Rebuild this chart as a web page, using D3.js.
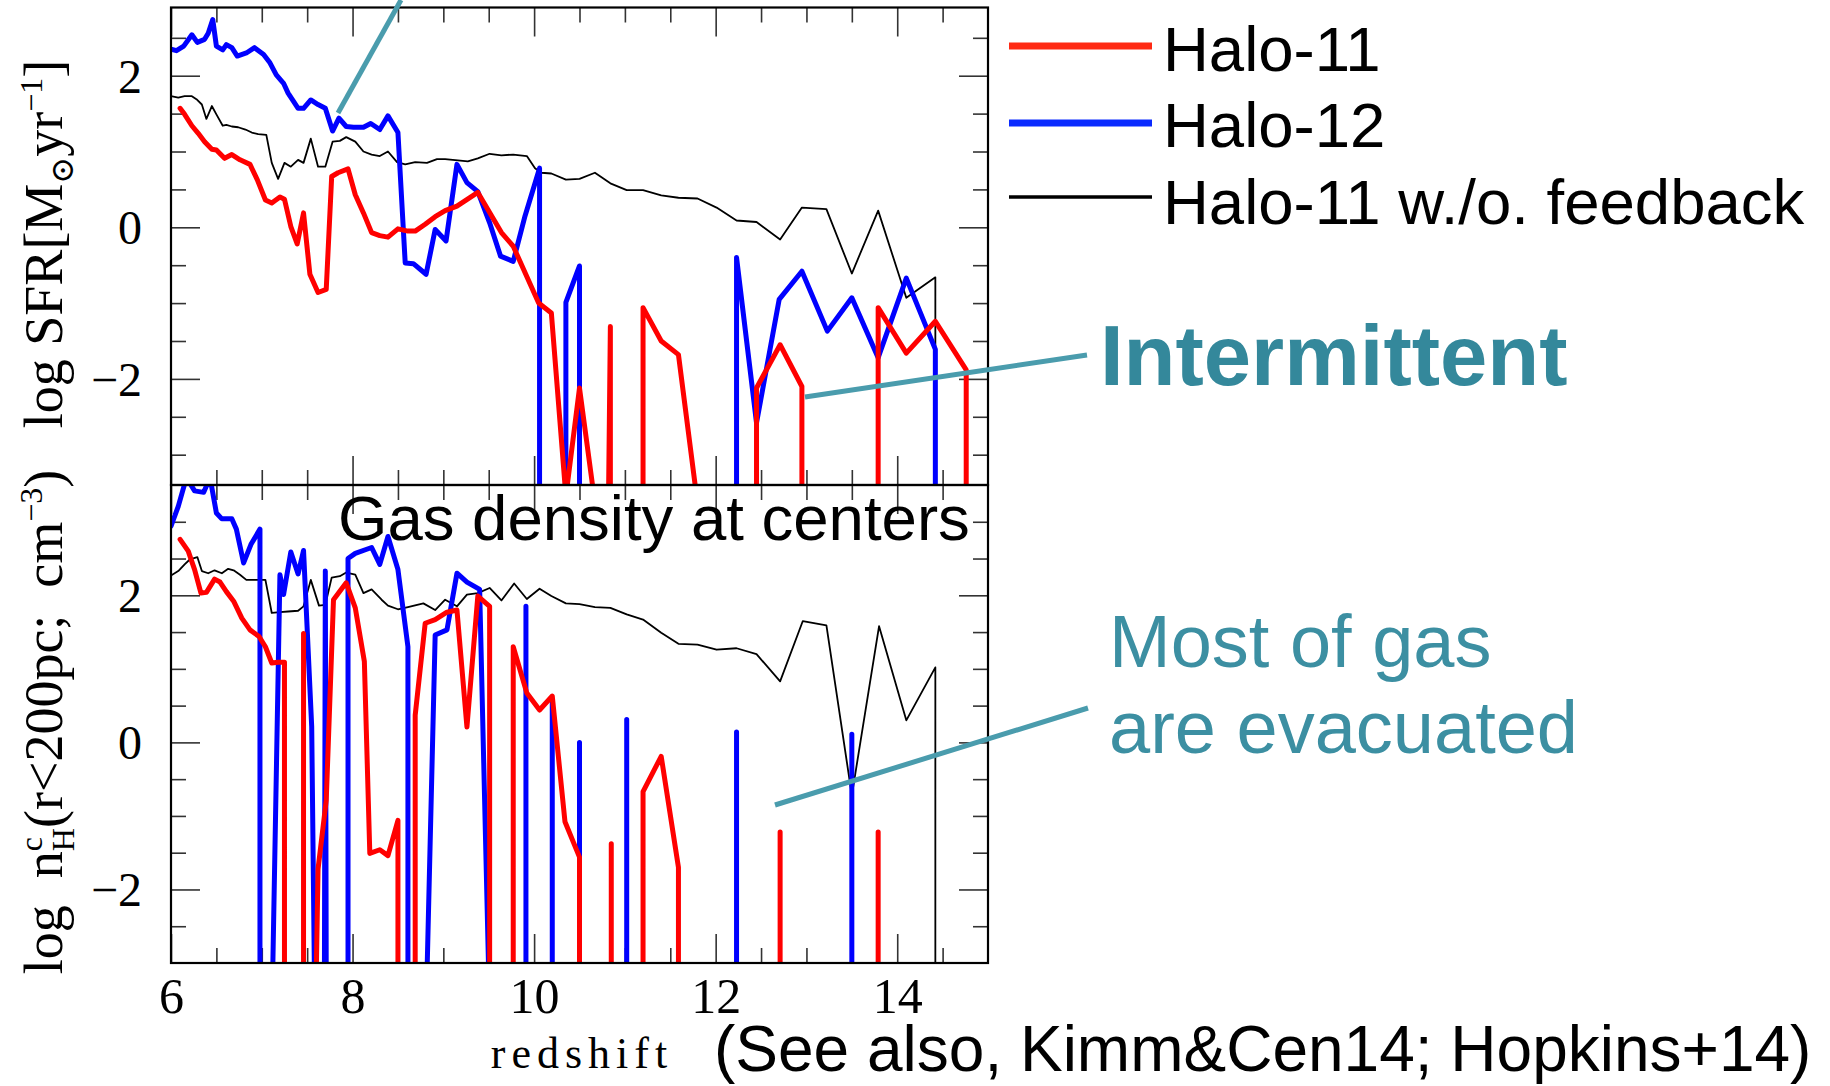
<!DOCTYPE html>
<html>
<head>
<meta charset="utf-8">
<script src="https://cdn.jsdelivr.net/npm/d3@7"></script>
<style>
  html, body { margin: 0; padding: 0; background: #fff; }
  svg { display: block; }
</style>
</head>
<body>
<svg id="chart" width="1830" height="1086"></svg>
<script>
// ---------------------------------------------------------------------------
// Data: redshift z, log value.  null = nothing there (log -> -infinity),
// drawn as a drop below the panel floor.
// ---------------------------------------------------------------------------
const redshiftLabels = [6, 8, 10, 12, 14];
const valueLabels = [-2, 0, 2];
const seriesNames = ["Halo-11", "Halo-12", "Halo-11 w./o. feedback"];

// log SFR [Msun/yr]
const sfrHalo11 = [
  [6.10, 1.57], [6.15, 1.49], [6.23, 1.34], [6.30, 1.24], [6.37, 1.13], [6.45, 1.03],
  [6.50, 1.02], [6.59, 0.91], [6.67, 0.96], [6.76, 0.89], [6.87, 0.83], [6.95, 0.63],
  [7.04, 0.36], [7.11, 0.32], [7.20, 0.40], [7.25, 0.37], [7.32, 0.01], [7.39, -0.22],
  [7.46, 0.19], [7.53, -0.62], [7.62, -0.86], [7.71, -0.82], [7.77, 0.67], [7.84, 0.72],
  [7.95, 0.77], [8.03, 0.43], [8.12, 0.19], [8.21, -0.07], [8.30, -0.11], [8.39, -0.13],
  [8.50, -0.02], [8.61, -0.05], [8.69, -0.05], [8.80, 0.04], [8.91, 0.14], [9.02, 0.22],
  [9.15, 0.28], [9.38, 0.46], [9.64, -0.07], [9.77, -0.25], [10.05, -1.00], [10.19, -1.13],
  [10.35, null], [10.50, -2.12], [10.66, null], [10.82, null], [10.84, -1.31], [10.84, null],
  [11.20, null], [11.20, -1.06], [11.40, -1.50], [11.59, -1.68], [11.79, null],
  [12.45, null], [12.45, -2.12], [12.71, -1.55], [12.95, -2.10], [12.95, null],
  [13.79, null], [13.79, -1.06], [14.10, -1.66], [14.42, -1.24], [14.76, -1.88], [14.76, null]
];
const sfrHalo12 = [
  [6.00, 2.35], [6.06, 2.33], [6.14, 2.39], [6.23, 2.54], [6.29, 2.44], [6.37, 2.48],
  [6.41, 2.56], [6.46, 2.74], [6.50, 2.39], [6.57, 2.34], [6.61, 2.41], [6.67, 2.37],
  [6.73, 2.26], [6.83, 2.30], [6.92, 2.37], [7.02, 2.28], [7.09, 2.17], [7.16, 2.01],
  [7.24, 1.90], [7.29, 1.77], [7.35, 1.66], [7.40, 1.57], [7.46, 1.57], [7.54, 1.68],
  [7.62, 1.62], [7.70, 1.57], [7.78, 1.27], [7.85, 1.44], [7.93, 1.33], [8.01, 1.32],
  [8.12, 1.32], [8.20, 1.37], [8.30, 1.29], [8.39, 1.47], [8.50, 1.25], [8.58, -0.47],
  [8.67, -0.48], [8.81, -0.62], [8.91, -0.03], [9.03, -0.18], [9.15, 0.83], [9.26, 0.59],
  [9.38, 0.47], [9.51, 0.06], [9.63, -0.38], [9.77, -0.45], [9.90, 0.15], [10.06, 0.78],
  [10.06, null], [10.35, null], [10.35, -0.99], [10.50, -0.51], [10.50, null],
  [12.23, null], [12.23, -0.40], [12.45, -2.58], [12.70, -0.95], [12.95, -0.58],
  [13.23, -1.37], [13.50, -0.93], [13.79, -1.72], [14.10, -0.67], [14.42, -1.61], [14.42, null]
];
const sfrNoFeedback = [
  [6.00, 1.73], [6.08, 1.71], [6.15, 1.73], [6.23, 1.73], [6.28, 1.69], [6.34, 1.62],
  [6.39, 1.43], [6.45, 1.60], [6.50, 1.49], [6.57, 1.34], [6.61, 1.35], [6.67, 1.33],
  [6.74, 1.32], [6.82, 1.29], [6.89, 1.25], [6.96, 1.23], [7.05, 1.22], [7.11, 0.85],
  [7.18, 0.64], [7.25, 0.85], [7.32, 0.80], [7.40, 0.89], [7.46, 0.85], [7.54, 1.17],
  [7.62, 0.80], [7.70, 0.80], [7.78, 1.13], [7.86, 1.14], [7.93, 1.19], [8.03, 1.13],
  [8.12, 1.00], [8.21, 0.96], [8.30, 0.94], [8.39, 1.00], [8.49, 0.86], [8.58, 0.83],
  [8.69, 0.86], [8.82, 0.85], [8.93, 0.90], [9.02, 0.90], [9.27, 0.87], [9.38, 0.91],
  [9.51, 0.97], [9.64, 0.95], [9.77, 0.96], [9.92, 0.94], [10.01, 0.78], [10.08, 0.72],
  [10.19, 0.71], [10.35, 0.63], [10.50, 0.64], [10.67, 0.72], [10.84, 0.58], [11.02, 0.49],
  [11.20, 0.49], [11.40, 0.42], [11.59, 0.39], [11.80, 0.38], [12.01, 0.26], [12.23, 0.09],
  [12.45, 0.07], [12.71, -0.16], [12.95, 0.26], [13.22, 0.24], [13.50, -0.61], [13.79, 0.22],
  [14.10, -0.93], [14.42, -0.66], [14.42, null]
];

// log central gas density n_H (r < 200 pc) [cm^-3]
const densHalo11 = [
  [6.10, 2.76], [6.19, 2.60], [6.26, 2.35], [6.33, 2.03], [6.39, 2.04], [6.48, 2.22],
  [6.54, 2.18], [6.61, 2.05], [6.69, 1.92], [6.78, 1.69], [6.87, 1.53], [6.97, 1.44],
  [7.04, 1.30], [7.11, 1.08], [7.18, 1.09], [7.25, 1.09], [7.25, null],
  [7.46, null], [7.46, 1.48], [7.46, null],
  [7.60, null], [7.62, -1.72], [7.71, -0.79], [7.79, 1.94], [7.93, 2.17], [8.03, 1.83],
  [8.13, 1.10], [8.19, -1.51], [8.30, -1.46], [8.39, -1.54], [8.50, -1.06], [8.50, null],
  [8.69, null], [8.69, 0.37], [8.80, 1.62], [8.91, 1.67], [9.04, 1.77], [9.15, 1.80],
  [9.26, 0.21], [9.38, 1.99], [9.51, 1.85], [9.51, null],
  [9.77, null], [9.77, 1.30], [9.92, 0.67], [10.06, 0.44], [10.20, 0.63], [10.34, -1.08],
  [10.50, -1.56], [10.50, null],
  [10.85, null], [10.85, -1.38], [10.85, null],
  [11.20, null], [11.20, -0.67], [11.40, -0.19], [11.59, -1.70], [11.59, null],
  [12.71, null], [12.71, -1.22], [12.71, null],
  [13.79, null], [13.79, -1.22], [13.79, null]
];
const densHalo12 = [
  [6.00, 2.94], [6.08, 3.21], [6.17, 3.60], [6.26, 3.42], [6.36, 3.40], [6.43, 3.60],
  [6.50, 3.12], [6.56, 3.04], [6.67, 3.04], [6.72, 2.90], [6.80, 2.44], [6.88, 2.69],
  [6.98, 2.90], [6.98, null],
  [7.12, null], [7.20, 2.28], [7.24, 2.01], [7.32, 2.59], [7.40, 2.29], [7.46, 2.61],
  [7.55, 0.21], [7.58, null],
  [7.69, null], [7.70, 2.33], [7.71, null],
  [7.95, null], [7.95, 2.50], [8.03, 2.57], [8.21, 2.65], [8.30, 2.42], [8.39, 2.80],
  [8.50, 2.35], [8.61, 1.30], [8.61, null],
  [8.82, null], [8.91, 1.46], [9.04, 1.53], [9.15, 2.30], [9.26, 2.18], [9.40, 2.08],
  [9.50, null],
  [9.91, null], [9.91, 1.85], [9.91, null],
  [10.20, null], [10.20, 0.55], [10.20, null],
  [10.50, null], [10.50, 0.00], [10.50, null],
  [11.02, null], [11.02, 0.31], [11.02, null],
  [12.23, null], [12.23, 0.14], [12.23, null],
  [13.50, null], [13.50, 0.11], [13.50, null]
];
const densNoFeedback = [
  [6.00, 2.27], [6.08, 2.33], [6.15, 2.42], [6.21, 2.49], [6.29, 2.52], [6.34, 2.33],
  [6.41, 2.30], [6.48, 2.34], [6.56, 2.30], [6.63, 2.36], [6.69, 2.34], [6.76, 2.28],
  [6.83, 2.21], [6.91, 2.21], [7.04, 2.21], [7.11, 1.76], [7.20, 1.77], [7.29, 1.78],
  [7.40, 1.79], [7.46, 1.85], [7.54, 2.21], [7.63, 1.86], [7.70, 1.87], [7.77, 2.24],
  [7.86, 2.26], [7.93, 2.31], [8.03, 2.28], [8.12, 2.03], [8.21, 2.08], [8.32, 1.94],
  [8.39, 1.86], [8.50, 1.81], [8.61, 1.84], [8.78, 1.89], [8.91, 1.80], [9.02, 1.94],
  [9.15, 1.85], [9.26, 2.01], [9.38, 2.03], [9.51, 2.10], [9.64, 1.93], [9.78, 2.16],
  [9.92, 1.95], [10.06, 2.09], [10.19, 1.99], [10.35, 1.89], [10.50, 1.88], [10.67, 1.84],
  [10.84, 1.83], [11.02, 1.74], [11.20, 1.67], [11.40, 1.49], [11.59, 1.34], [11.80, 1.33],
  [12.01, 1.26], [12.23, 1.28], [12.45, 1.20], [12.71, 0.83], [12.96, 1.65], [13.22, 1.59],
  [13.50, -0.72], [13.80, 1.58], [14.10, 0.30], [14.42, 1.02], [14.42, null]
];

// ---------------------------------------------------------------------------
// Layout and styling
// ---------------------------------------------------------------------------
const svg = d3.select("#chart");
const plotLeft = 171, plotRight = 988;
const SERIF = "'Liberation Serif', 'DejaVu Serif', serif";
const SANS = "'Liberation Sans', Arial, sans-serif";
const TEAL_LINE = "#4a9cad";

const x = d3.scaleLinear().domain([6, 15]).range([plotLeft, plotRight]);

const seriesStyle = {
  red:   { color: "#ff0000", width: 5 },
  blue:  { color: "#0000ff", width: 5 },
  black: { color: "#000000", width: 1.8 }
};

const panels = [
  {
    id: "sfr", top: 7.5, bottom: 485, domain: [-3.4, 2.9],
    series: [[sfrNoFeedback, "black"], [sfrHalo12, "blue"], [sfrHalo11, "red"]]
  },
  {
    id: "dens", top: 485, bottom: 963, domain: [-3, 3.5],
    series: [[densNoFeedback, "black"], [densHalo12, "blue"], [densHalo11, "red"]]
  }
];

const defs = svg.append("defs");
const MAJOR = 29, MINOR = 15;
const xMinor = d3.range(6.5, 15, 0.5).filter(v => !redshiftLabels.includes(v));
const intFormat = d3.format("d");

function tickAxis(axisFn, scale, values, size) {
  return axisFn(scale).tickValues(values).tickSizeInner(size).tickSizeOuter(0).tickFormat("");
}
function styleTicks(g) {
  g.select(".domain").remove();
  g.selectAll(".tick line").attr("stroke", "#333").attr("stroke-width", 1.6);
}

panels.forEach(p => {
  const y = d3.scaleLinear().domain(p.domain).range([p.bottom, p.top]);
  const floorValue = p.domain[0] - 0.15;
  const g = svg.append("g").attr("class", "panel-" + p.id);

  defs.append("clipPath").attr("id", "clip-" + p.id)
    .append("rect")
    .attr("x", plotLeft).attr("y", p.top)
    .attr("width", plotRight - plotLeft).attr("height", p.bottom - p.top);

  // tick marks on all four sides
  const yMinor = d3.range(Math.ceil(p.domain[0] * 2) / 2, p.domain[1], 0.5)
    .filter(v => !valueLabels.includes(v) && v > p.domain[0] && v < p.domain[1]);
  const sides = [
    [d3.axisBottom, x, `translate(0,${p.top})`],
    [d3.axisTop, x, `translate(0,${p.bottom})`],
    [d3.axisRight, y, `translate(${plotLeft},0)`],
    [d3.axisLeft, y, `translate(${plotRight},0)`]
  ];
  sides.forEach(([fn, sc, tr]) => {
    const isX = sc === x;
    g.append("g").attr("transform", tr)
      .call(tickAxis(fn, sc, isX ? redshiftLabels : valueLabels, MAJOR)).call(styleTicks);
    g.append("g").attr("transform", tr)
      .call(tickAxis(fn, sc, isX ? xMinor : yMinor, MINOR)).call(styleTicks);
  });

  // value labels on the left
  g.append("g").attr("transform", `translate(${plotLeft},0)`)
    .call(d3.axisLeft(y).tickValues(valueLabels).tickFormat(intFormat).tickSize(0).tickPadding(29))
    .call(a => {
      a.select(".domain").remove();
      a.selectAll("text").attr("font-family", SERIF).attr("font-size", 48)
        .attr("fill", "#000").attr("dy", "0.34em");
    });

  // series
  const line = d3.line()
    .x(d => x(d[0]))
    .y(d => y(d[1] === null ? floorValue : d[1]));
  const lines = g.append("g").attr("clip-path", `url(#clip-${p.id})`);
  p.series.forEach(([data, key]) => {
    lines.append("path")
      .datum(data)
      .attr("d", line)
      .attr("fill", "none")
      .attr("stroke", seriesStyle[key].color)
      .attr("stroke-width", seriesStyle[key].width)
      .attr("stroke-linejoin", "round")
      .attr("stroke-linecap", "round");
  });

  // frame
  g.append("rect")
    .attr("x", plotLeft).attr("y", p.top)
    .attr("width", plotRight - plotLeft).attr("height", p.bottom - p.top)
    .attr("fill", "none").attr("stroke", "#000").attr("stroke-width", 2.2);
});

// redshift labels under the lower panel
svg.append("g").attr("transform", `translate(0,${panels[1].bottom})`)
  .call(d3.axisBottom(x).tickValues(redshiftLabels).tickFormat(intFormat).tickSize(0).tickPadding(14))
  .call(a => {
    a.select(".domain").remove();
    a.selectAll("text").attr("font-family", SERIF).attr("font-size", 50).attr("fill", "#000");
  });

svg.append("text")
  .attr("x", 582).attr("y", 1068)
  .attr("text-anchor", "middle")
  .attr("font-family", SERIF)
  .attr("font-size", 44)
  .attr("letter-spacing", 6)
  .text("redshift");

// axis titles (rotated)
const topTitle = svg.append("text")
  .attr("transform", "translate(62,244) rotate(-90)")
  .attr("text-anchor", "middle")
  .attr("font-family", SERIF).attr("font-size", 54)
  .style("white-space", "pre");
topTitle.append("tspan").text("log SFR[M");
topTitle.append("tspan").attr("font-size", 32).attr("dy", 11).text("\u2299");
topTitle.append("tspan").attr("dy", -11).text("yr");
topTitle.append("tspan").attr("font-size", 32).attr("dy", -20).text("\u22121");
topTitle.append("tspan").attr("dy", 20).text("]");

const botTitle = svg.append("text")
  .attr("transform", "translate(62,722) rotate(-90)")
  .attr("text-anchor", "middle")
  .attr("font-family", SERIF).attr("font-size", 54)
  .style("white-space", "pre");
botTitle.append("tspan").text("log  n");
botTitle.append("tspan").attr("font-size", 32).attr("dy", -20).text("c");
botTitle.append("tspan").attr("font-size", 32).attr("dx", -14).attr("dy", 32).text("H");
botTitle.append("tspan").attr("dy", -12).text("(r<200pc;  cm");
botTitle.append("tspan").attr("font-size", 32).attr("dy", -20).text("\u22123");
botTitle.append("tspan").attr("dy", 20).text(")");

// panel caption
svg.append("text")
  .attr("x", 338).attr("y", 540)
  .attr("font-family", SANS).attr("font-size", 63.5)
  .text("Gas density at centers");

// legend
const legendStyle = [
  { color: "#ff2a14", width: 7 },
  { color: "#0a2aff", width: 7 },
  { color: "#000000", width: 3.5 }
];
const legendLineY = [46, 123, 197];
const legendTextY = [71, 147, 224];
const legend = svg.append("g");
legend.selectAll("line").data(seriesNames).join("line")
  .attr("x1", 1009).attr("x2", 1152)
  .attr("y1", (d, i) => legendLineY[i]).attr("y2", (d, i) => legendLineY[i])
  .attr("stroke", (d, i) => legendStyle[i].color)
  .attr("stroke-width", (d, i) => legendStyle[i].width);
legend.selectAll("text").data(seriesNames).join("text")
  .attr("x", 1163).attr("y", (d, i) => legendTextY[i])
  .attr("font-family", SANS).attr("font-size", 63.5)
  .text(d => d);

// annotations
const pointers = [
  [338, 113, 401, 0],
  [805, 397, 1087, 355],
  [775, 805, 1088, 708]
];
svg.append("g").selectAll("line").data(pointers).join("line")
  .attr("x1", d => d[0]).attr("y1", d => d[1])
  .attr("x2", d => d[2]).attr("y2", d => d[3])
  .attr("stroke", TEAL_LINE).attr("stroke-width", 5);

svg.append("text")
  .attr("x", 1100).attr("y", 385)
  .attr("font-family", SANS).attr("font-size", 85).attr("font-weight", "bold")
  .attr("fill", "#34889b")
  .text("Intermittent");

svg.append("text")
  .attr("x", 1109).attr("y", 667)
  .attr("font-family", SANS).attr("font-size", 74)
  .attr("fill", "#3c8fa2")
  .text("Most of gas");
svg.append("text")
  .attr("x", 1109).attr("y", 753)
  .attr("font-family", SANS).attr("font-size", 74)
  .attr("fill", "#3c8fa2")
  .text("are evacuated");

svg.append("text")
  .attr("x", 714).attr("y", 1071)
  .attr("font-family", SANS).attr("font-size", 64)
  .text("(See also, Kimm&Cen14; Hopkins+14)");
</script>
</body>
</html>
